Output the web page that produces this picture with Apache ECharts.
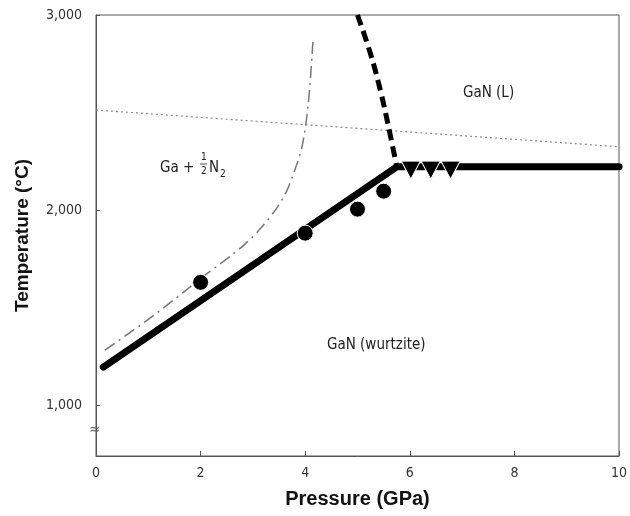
<!DOCTYPE html>
<html>
<head>
<meta charset="utf-8">
<script src="https://cdn.jsdelivr.net/npm/echarts@6/dist/echarts.min.js"></script>
<style>
html, body { margin: 0; padding: 0; background: #fff; }
#chart { width: 630px; height: 516px; }
</style>
</head>
<body>
<div id="chart"></div>
<script>
// phase boundaries, [pressure GPa, temperature C]
var meltLine = [[0.14, 1196], [5.75, 2222], [10, 2222]];
var liquidusDash = [[5.0, 3000], [5.25, 2800], [5.45, 2600], [5.62, 2393], [5.75, 2222]];
var decompLine = [[0.17, 1282], [1, 1440], [1.7, 1585], [2.08, 1666], [2.34, 1718], [2.59, 1769], [2.85, 1826], [3.14, 1904], [3.45, 2008], [3.65, 2100], [3.8, 2205], [3.94, 2325], [4.06, 2547], [4.15, 2872]];
var dottedLine = [[0, 2513], [10, 2325]];
var circlePts = [[2, 1630], [4, 1882], [5, 2005], [5.5, 2097]];
var trianglePts = [[6.02, 2205], [6.40, 2205], [6.78, 2205]];
var yTicks = [1000, 2000, 3000];

var narrow = "'Liberation Sans Narrow', 'DejaVu Sans Condensed', 'Liberation Sans', sans-serif";
var txtColor = '#222';

var chart = echarts.init(document.getElementById('chart'));

var option = {
	backgroundColor: '#fff',
	animation: false,
	grid: {
		left: 96, right: 11, top: 15, bottom: 60,
		show: true, borderColor: '#555', borderWidth: 1
	},
	xAxis: {
		type: 'value', min: 0, max: 10, interval: 2,
		name: 'Pressure (GPa)', nameLocation: 'middle', nameGap: 33,
		nameTextStyle: { fontFamily: 'Liberation Sans, Arial, sans-serif', fontWeight: 'bold', fontSize: 20, color: '#111' },
		axisLine: { lineStyle: { color: '#555', width: 1 } },
		axisTick: { inside: true, length: 5, lineStyle: { color: '#555' } },
		axisLabel: { fontFamily: narrow, fontSize: 14, color: '#333', margin: 10 },
		splitLine: { show: false }
	},
	yAxis: {
		type: 'value', min: 740, max: 3000,
		name: 'Temperature (°C)', nameLocation: 'middle', nameGap: 64,
		nameTextStyle: { fontFamily: 'Liberation Sans, Arial, sans-serif', fontWeight: 'bold', fontSize: 19, color: '#111' },
		axisLine: { show: true, lineStyle: { color: '#555', width: 1 } },
		axisTick: { show: true, inside: true, length: 4, customValues: yTicks, lineStyle: { color: '#555' } },
		axisLabel: {
			customValues: yTicks, fontFamily: narrow, fontSize: 14, color: '#333', margin: 14,
			formatter: function (v) { return v.toLocaleString('en-US'); }
		},
		splitLine: { show: false }
	},
	series: [
		{
			type: 'line', data: dottedLine, symbol: 'none', silent: true, z: 2,
			lineStyle: { color: '#888', width: 1.2, type: [2, 3] }
		},
		{
			type: 'line', data: decompLine, symbol: 'none', smooth: 0.3, silent: true, z: 2,
			lineStyle: { color: '#777', width: 1.5, type: [12, 5, 2, 5] }
		},
		{
			type: 'line', data: liquidusDash, symbol: 'none', smooth: 0.4, silent: true, z: 3,
			lineStyle: { color: '#000', width: 5, type: [11, 6], cap: 'butt' }
		},
		{
			type: 'line', data: meltLine, symbol: 'none', silent: true, z: 3,
			lineStyle: { color: '#000', width: 7, cap: 'round', join: 'round' }
		},
		{
			type: 'scatter', data: circlePts, symbol: 'circle', symbolSize: 16, z: 4,
			itemStyle: { color: '#000', opacity: 1, borderColor: '#fff', borderWidth: 1 }
		},
		{
			type: 'scatter', data: trianglePts, symbol: 'triangle', symbolRotate: 180, symbolSize: [19, 18], z: 4,
			itemStyle: { color: '#000', opacity: 1, borderColor: '#fff', borderWidth: 1 }
		}
	],
	graphic: [
		{ type: 'text', left: 463, top: 86, style: { text: 'GaN (L)', font: '15px ' + narrow, fill: txtColor } },
		{ type: 'text', left: 327, top: 338, style: { text: 'GaN (wurtzite)', font: '15px ' + narrow, fill: txtColor } },
		{ type: 'text', left: 160, top: 161, style: { text: 'Ga +', font: '15px ' + narrow, fill: txtColor } },
		{ type: 'text', left: 201, top: 152, style: { text: '1', font: '10px ' + narrow, fill: txtColor } },
		{ type: 'line', shape: { x1: 200, y1: 164, x2: 207, y2: 164 }, style: { stroke: txtColor, lineWidth: 0.8 } },
		{ type: 'text', left: 201, top: 166, style: { text: '2', font: '10px ' + narrow, fill: txtColor } },
		{ type: 'text', left: 209, top: 161, style: { text: 'N', font: '15px ' + narrow, fill: txtColor } },
		{ type: 'text', left: 220, top: 169, style: { text: '2', font: '10px ' + narrow, fill: txtColor } },
		{ type: 'text', left: 89, top: 423, style: { text: '≈', font: '15px ' + narrow, fill: '#666' } }
	]
};

chart.setOption(option);
</script>
</body>
</html>
